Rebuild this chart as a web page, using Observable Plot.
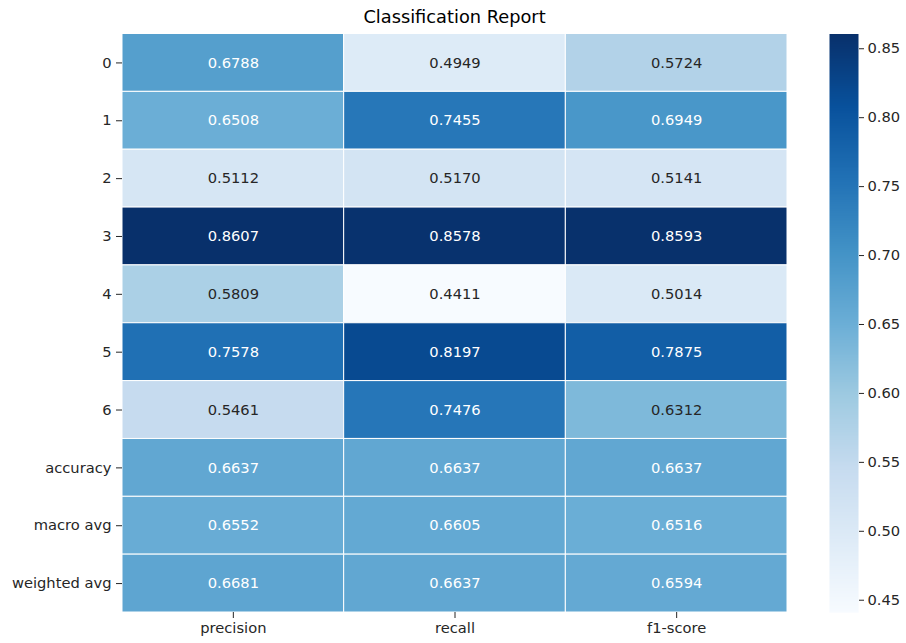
<!DOCTYPE html>
<html>
<head>
<meta charset="utf-8">
<script src="https://cdn.jsdelivr.net/npm/d3@7"></script>
<script src="https://cdn.jsdelivr.net/npm/@observablehq/plot@0.6"></script>
<style>
  html, body { margin: 0; padding: 0; background: #fff; }
  #wrap { position: relative; width: 906px; height: 643px; font-family: "DejaVu Sans", sans-serif; }
  #title { position: absolute; left: 122px; width: 665px; top: 6px; text-align: center; font-size: 17.8px; line-height: 21px; color: #000; }
  #heat { position: absolute; left: 0; top: 0; }
  #cbar { position: absolute; left: 829px; top: 0; }
</style>
</head>
<body>
<div id="wrap">
  <div id="title">Classification Report</div>
  <div id="heat"></div>
  <div id="cbar"></div>
</div>
<script>
const rows = ["0", "1", "2", "3", "4", "5", "6", "accuracy", "macro avg", "weighted avg"];
const cols = ["precision", "recall", "f1-score"];
const precision = [0.6788, 0.6508, 0.5112, 0.8607, 0.5809, 0.7578, 0.5461, 0.6637, 0.6552, 0.6681];
const recall    = [0.4949, 0.7455, 0.5170, 0.8578, 0.4411, 0.8197, 0.7476, 0.6637, 0.6605, 0.6637];
const f1score   = [0.5724, 0.6949, 0.5141, 0.8593, 0.5014, 0.7875, 0.6312, 0.6637, 0.6516, 0.6594];
const cbarTicks = [0.45, 0.50, 0.55, 0.60, 0.65, 0.70, 0.75, 0.80, 0.85];

const series = [precision, recall, f1score];
const data = [];
rows.forEach((r, i) => cols.forEach((c, j) => data.push({row: r, col: c, value: series[j][i]})));

const all = series.flat();
const vmin = d3.min(all), vmax = d3.max(all);

const blues = ["#f7fbff", "#deebf7", "#c6dbef", "#9ecae1", "#6baed6", "#4292c6", "#2171b5", "#08519c", "#08306b"];
const interp = d3.piecewise(d3.interpolateRgb, blues);
const colorOpts = {type: "linear", domain: [vmin, vmax], interpolate: interp};

function textColor(v) {
  const c = d3.rgb(interp((v - vmin) / (vmax - vmin)));
  const lin = x => { x /= 255; return x <= 0.03928 ? x / 12.92 : Math.pow((x + 0.055) / 1.055, 2.4); };
  const lum = 0.2126 * lin(c.r) + 0.7152 * lin(c.g) + 0.0722 * lin(c.b);
  return lum > 0.408 ? "#262626" : "#ffffff";
}

const FS = 14.7;

const heat = Plot.plot({
  width: 810,
  height: 643,
  marginLeft: 122,
  marginRight: 23,
  marginTop: 33.5,
  marginBottom: 31,
  style: {fontFamily: "DejaVu Sans, sans-serif", fontSize: FS + "px", color: "#000", background: "transparent"},
  x: {domain: cols, padding: 0, round: false, label: null},
  y: {domain: rows, padding: 0, round: false, label: null},
  color: colorOpts,
  marks: [
    Plot.cell(data, {x: "col", y: "row", fill: "value", stroke: "white", strokeWidth: 1}),
    Plot.text(data, {x: "col", y: "row", text: d => d.value.toFixed(4), fill: d => textColor(d.value), fontSize: FS}),
    Plot.axisX({domain: cols, tickSize: 6, tickPadding: 4, fontSize: FS, label: null, color: "#262626"}),
    Plot.axisY({domain: rows, tickSize: 6, tickPadding: 5, fontSize: FS, label: null, color: "#262626"})
  ]
});
document.getElementById("heat").appendChild(heat);

const cbar = Plot.plot({
  width: 77,
  height: 643,
  marginLeft: 0,
  marginRight: 48,
  marginTop: 33.5,
  marginBottom: 31,
  style: {fontFamily: "DejaVu Sans, sans-serif", fontSize: FS + "px", color: "#000", background: "transparent"},
  x: {domain: [0, 1], axis: null},
  y: {domain: [vmin, vmax], axis: null},
  color: colorOpts,
  marks: [
    Plot.raster({x1: 0, x2: 1, y1: vmin, y2: vmax, width: 2, height: 600, fill: (x, y) => y, interpolate: "none"}),
    Plot.axisY({ticks: cbarTicks, anchor: "right", tickFormat: d3.format(".2f"), tickSize: 5, tickPadding: 4, fontSize: FS, label: null, color: "#262626"})
  ]
});
document.getElementById("cbar").appendChild(cbar);
</script>
</body>
</html>
